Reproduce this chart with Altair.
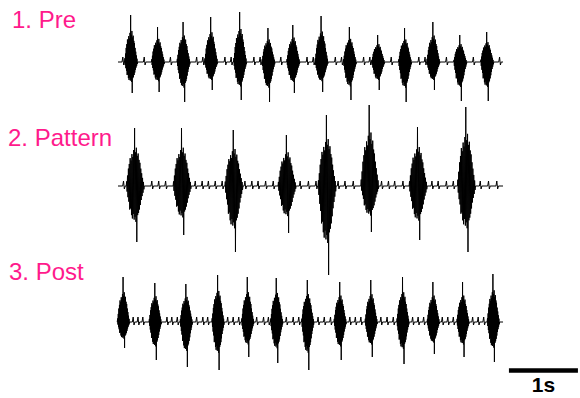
import altair as alt
import pandas as pd

# ---- recordings: burst centres (s from trace onset), largest excursion
# ---- above / below the baseline (a.u.), and the small periodic deflections
PRE_BURST_T = [0.19, 0.58, 0.95, 1.35, 1.77, 2.18, 2.54, 2.95, 3.36, 3.77, 4.16, 4.57, 4.96, 5.35]
PRE_BURST_UP = [47, 35, 40, 45, 50, 34, 37, 46, 35, 27, 34, 40, 27, 30]
PRE_BURST_DOWN = [31, 30, 40, 28, 38, 40, 31, 30, 38, 28, 40, 28, 39, 39]
PRE_TICKS = [0.07, 0.30, 0.38, 0.46, 0.68, 0.76, 0.84, 1.06, 1.14, 1.23,
             1.46, 1.55, 1.64, 1.88, 1.97, 2.06, 2.29, 2.36, 2.43, 2.65,
             2.74, 2.83, 3.06, 3.15, 3.24, 3.47, 3.56, 3.65, 3.87, 3.96,
             4.05, 4.27, 4.36, 4.45, 4.67, 4.76, 4.85, 5.06, 5.15, 5.24,
             5.46, 5.53]

PAT_BURST_T = [0.25, 0.93, 1.68, 2.45, 3.03, 3.65, 4.35, 5.05]
PAT_BURST_UP = [58, 58, 56, 51, 71, 81, 59, 79]
PAT_BURST_DOWN = [56, 49, 66, 47, 89, 46, 54, 66]
PAT_TICKS = [0.08, 0.40, 0.49, 0.59, 0.69, 0.79, 1.12, 1.22, 1.31, 1.41,
             1.51, 1.84, 1.94, 2.03, 2.14, 2.25, 2.64, 2.76, 2.87, 3.19,
             3.29, 3.41, 3.51, 3.82, 3.92, 4.01, 4.13, 4.22, 4.55, 4.64,
             4.76, 4.86, 5.25, 5.37, 5.49]

POST_BURST_T = [0.08, 0.54, 0.99, 1.45, 1.88, 2.30, 2.75, 3.22, 3.67, 4.13, 4.57, 5.00, 5.44]
POST_BURST_UP = [45, 39, 38, 47, 45, 44, 42, 40, 42, 45, 40, 40, 48]
POST_BURST_DOWN = [26, 38, 45, 48, 35, 41, 48, 38, 35, 42, 32, 35, 40]
POST_TICKS = [0.22, 0.29, 0.36, 0.71, 0.78, 0.86, 1.14, 1.23, 1.30, 1.59,
              1.67, 1.75, 2.01, 2.11, 2.18, 2.44, 2.54, 2.62, 2.90, 2.99,
              3.08, 3.36, 3.44, 3.52, 3.81, 3.90, 3.99, 4.27, 4.35, 4.43,
              4.70, 4.78, 4.86, 5.14, 5.22, 5.30, 5.54]

LABELS = ["1. Pre", "2. Pattern", "3. Post"]

# shape shared by every burst: successive positive / negative peaks as a
# fraction of that burst's largest excursion (one isolated tallest spike
# on each side, a ragged dense core around it)
BURST_UP_PROFILE = [0.08, 0.18, 0.30, 0.38, 0.48, 0.44, 0.55, 0.50, 0.62, 1.00,
                    0.58, 0.66, 0.52, 0.56, 0.45, 0.40, 0.30, 0.22, 0.14, 0.07]
BURST_DOWN_PROFILE = [0.10, 0.20, 0.28, 0.42, 0.40, 0.52, 0.58, 0.50, 0.60, 0.55,
                      0.64, 1.00, 0.52, 0.48, 0.42, 0.34, 0.25, 0.18, 0.12, 0.06]
TICK_UP, TICK_DOWN = 5, 3

# ---- layout: 1 s = 69 px, trace onset at x = 118 px, 1 a.u. = 1 px
PX_PER_S = 69.0
X0 = 118.0
W, H = 580, 398
X_DOMAIN = [-X0 / PX_PER_S, (W - X0) / PX_PER_S]
TRACE_END = 5.58
BASELINES = [-62, -186, -322]
BURST_WIDTH = [0.18, 0.25, 0.17]
INK = "#000000"
PINK = "#FF1A8C"


def trace_points(bursts, ups, downs, ticks, width):
    pts = []
    spans = []
    n = len(BURST_UP_PROFILE) * 2
    for t, u, d in zip(bursts, ups, downs):
        a, b = t - width / 2, t + width / 2
        spans.append((a, b))
        pts.append((a - 0.006, 0.0))
        for k in range(n):
            x = a + width * k / (n - 1)
            if k % 2 == 0:
                v = BURST_UP_PROFILE[k // 2] * u
            else:
                v = -BURST_DOWN_PROFILE[k // 2] * d
            pts.append((x, v))
        pts.append((b + 0.006, 0.0))
    for tk in ticks:
        if any(a - 0.03 < tk < b + 0.03 for a, b in spans):
            continue
        pts += [(tk - 0.012, 0.0), (tk, TICK_UP), (tk + 0.012, -TICK_DOWN), (tk + 0.024, 0.0)]
    start = min(0.0, spans[0][0] - 0.01)
    pts += [(start, 0.0), (TRACE_END, 0.0)]
    pts.sort(key=lambda p: p[0])
    return pts


traces = [
    (PRE_BURST_T, PRE_BURST_UP, PRE_BURST_DOWN, PRE_TICKS),
    (PAT_BURST_T, PAT_BURST_UP, PAT_BURST_DOWN, PAT_TICKS),
    (POST_BURST_T, POST_BURST_UP, POST_BURST_DOWN, POST_TICKS),
]

rows = []
for ti, (bt, bu, bd, tk) in enumerate(traces):
    for i, (t, v) in enumerate(trace_points(bt, bu, bd, tk, BURST_WIDTH[ti])):
        rows.append({"trace": LABELS[ti], "i": i, "t": t, "v": v + BASELINES[ti]})
df = pd.DataFrame(rows)

x_scale = alt.Scale(domain=X_DOMAIN, nice=False, zero=False)
y_scale = alt.Scale(domain=[-H, 0], nice=False, zero=False)

lines = alt.Chart(df).mark_line(
    color=INK, strokeWidth=1.0, strokeJoin="round", interpolate="linear"
).encode(
    x=alt.X("t:Q", scale=x_scale, axis=None),
    y=alt.Y("v:Q", scale=y_scale, axis=None),
    detail="trace:N",
    order="i:Q",
)

label_pos = [(12, 28), (8, 146), (9, 280)]
label_layers = [
    alt.Chart(pd.DataFrame({"label": [lab]})).mark_text(
        align="left", baseline="alphabetic", font="Liberation Sans",
        fontSize=24, color=PINK
    ).encode(text="label:N", x=alt.value(px), y=alt.value(py))
    for lab, (px, py) in zip(LABELS, label_pos)
]

# 1 s scale bar
bar_df = pd.DataFrame({"t0": [X_DOMAIN[1] - 1.03], "t1": [X_DOMAIN[1] - 0.03], "txt": ["1s"]})
bar = alt.Chart(bar_df).mark_rule(color=INK, strokeWidth=4.5).encode(
    x=alt.X("t0:Q", scale=x_scale, axis=None),
    x2="t1:Q",
    y=alt.value(370.5),
)
bar_text = alt.Chart(bar_df).transform_calculate(mid="(datum.t0 + datum.t1) / 2").mark_text(
    align="center", baseline="alphabetic", font="Liberation Sans",
    fontSize=21, fontWeight="bold", color=INK
).encode(
    x=alt.X("mid:Q", scale=x_scale, axis=None),
    y=alt.value(392),
    text="txt:N",
)

chart = alt.layer(lines, bar, bar_text, *label_layers).properties(
    width=W, height=H, padding=0, autosize=alt.AutoSizeParams(type="none"),
    background="white",
).configure_view(stroke=None)

chart.save("out.html", embed_options={"renderer": "svg", "actions": False})
